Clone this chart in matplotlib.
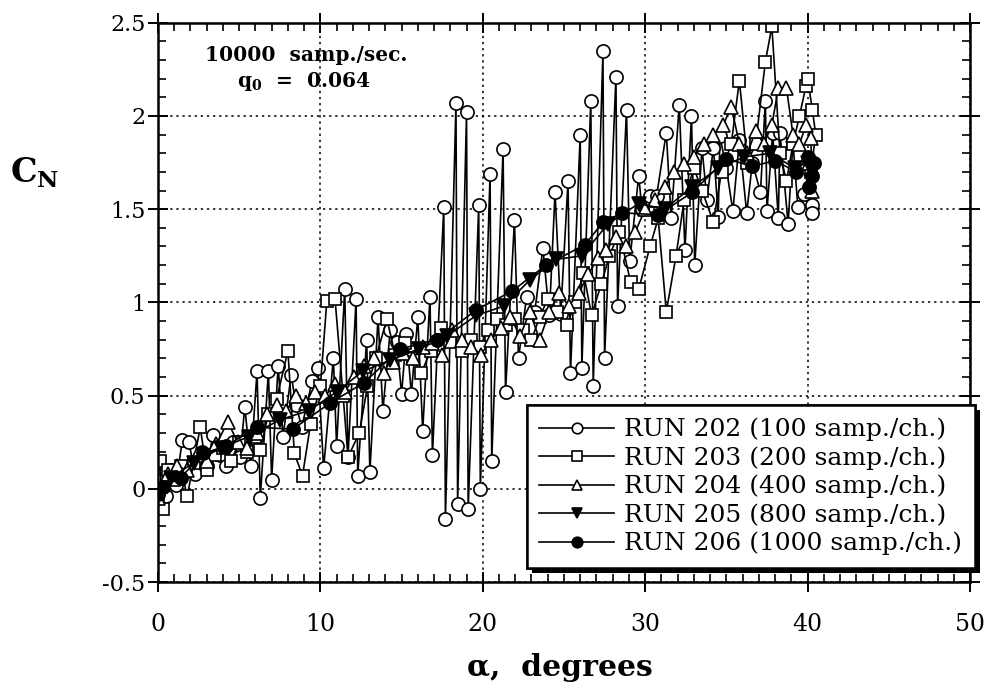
import matplotlib
matplotlib.use("Agg")
import matplotlib.pyplot as plt
import matplotlib.patheffects as pe
from matplotlib.ticker import MultipleLocator

plt.rcParams['font.family'] = ['DejaVu Serif']
plt.rcParams['mathtext.fontset'] = 'dejavuserif'

# ---- data: RUN 202 (100 samp./ch.) ----
alpha_202 = [0.0, 0.2, 0.5, 0.8, 1.1, 1.5, 1.9, 2.3, 2.7, 3.0, 3.4, 3.8, 4.2, 4.6, 5.05, 5.35,
             5.7, 6.1, 6.3, 6.8, 7.0, 7.4, 7.7, 8.2, 8.5, 8.85, 9.5, 9.85, 10.2, 10.8, 11.0, 11.5,
             11.7, 12.2, 12.3, 12.85, 13.05, 13.55, 13.85, 14.3, 14.7, 15.0, 15.3, 15.6, 16.0, 16.3,
             16.75, 16.9, 17.6, 17.7, 18.35, 18.45, 19.0, 19.1, 19.75, 19.85, 20.45, 20.55, 21.25,
             21.4, 21.95, 22.2, 22.7, 23.2, 23.7, 24.1, 24.45, 24.8, 25.25, 25.4, 26.0, 26.1, 26.65,
             26.8, 27.4, 27.5, 28.2, 28.3, 28.85, 29.05, 29.6, 29.8, 30.3, 30.7, 31.3, 31.6, 32.1,
             32.45, 32.85, 33.05, 33.5, 33.8, 34.2, 34.5, 34.6, 35.0, 35.4, 35.8, 36.25, 36.6, 37.1,
             37.4, 37.5, 37.85, 38.2, 38.3, 38.8, 39.1, 39.4, 39.8, 40.3, 40.3]
cn_202 = [-0.02, 0.05, -0.04, 0.10, 0.02, 0.26, 0.25, 0.08, 0.20, 0.12, 0.29, 0.18, 0.12, 0.25, 0.17,
          0.44, 0.12, 0.63, -0.05, 0.63, 0.05, 0.66, 0.28, 0.61, 0.45, 0.33, 0.58, 0.65, 0.11, 0.70,
          0.23, 1.07, 0.17, 1.02, 0.07, 0.80, 0.09, 0.92, 0.42, 0.85, 0.79, 0.51, 0.83, 0.51, 0.92,
          0.31, 1.03, 0.18, 1.51, -0.16, 2.07, -0.08, 2.02, -0.11, 1.52, 0.00, 1.69, 0.15, 1.82,
          0.52, 1.44, 0.70, 1.03, 0.95, 1.29, 0.93, 1.59, 0.94, 1.65, 0.62, 1.90, 0.65, 2.08, 0.55,
          2.35, 0.70, 2.21, 0.98, 2.03, 1.22, 1.68, 1.50, 1.57, 1.57, 1.91, 1.45, 2.06, 1.28, 2.00,
          1.20, 1.83, 1.55, 1.83, 1.46, 1.89, 1.72, 1.49, 1.87, 1.48, 1.75, 1.59, 2.08, 1.49, 1.91,
          1.45, 1.91, 1.42, 1.86, 1.51, 1.58, 1.52, 1.48]

# ---- data: RUN 203 (200 samp./ch.) ----
alpha_203 = [0.1, 0.3, 0.6, 1.0, 1.4, 1.8, 2.2, 2.6, 3.0, 3.5, 4.0, 4.5, 5.0, 5.5, 6.0, 6.3, 6.8,
             7.3, 8.0, 8.4, 8.9, 9.4, 10.0, 10.4, 10.9, 11.4, 11.7, 12.4, 12.9, 13.4, 14.1, 14.6,
             15.2, 15.7, 16.2, 16.8, 17.4, 18.0, 18.7, 19.3, 19.8, 20.3, 20.9, 21.4, 22.0, 22.5,
             23.0, 23.5, 24.0, 24.6, 25.2, 25.7, 26.2, 26.7, 27.3, 27.8, 28.4, 29.1, 29.6, 30.3,
             30.8, 31.3, 31.9, 32.4, 33.0, 33.5, 34.2, 34.7, 35.3, 35.8, 36.3, 36.8, 37.4, 37.8,
             38.3, 38.7, 39.1, 39.5, 39.9, 40.0, 40.3, 40.5, 40.2]
cn_203 = [0.15, -0.11, 0.10, 0.05, 0.12, -0.04, 0.14, 0.33, 0.10, 0.18, 0.22, 0.15, 0.25, 0.20,
          0.28, 0.21, 0.40, 0.48, 0.74, 0.19, 0.07, 0.35, 0.55, 1.01, 1.02, 0.50, 0.17, 0.30, 0.55,
          0.70, 0.91, 0.72, 0.78, 0.70, 0.62, 0.74, 0.86, 0.79, 0.74, 0.80, 0.76, 0.85, 0.91, 0.88,
          0.91, 0.85, 0.80, 0.92, 1.02, 0.95, 0.88, 1.00, 1.16, 0.93, 1.10, 1.25, 1.38, 1.11, 1.07,
          1.30, 1.45, 0.95, 1.25, 1.55, 1.72, 1.60, 1.43, 1.70, 1.85, 2.19, 1.75, 1.85, 2.29, 2.48,
          1.80, 1.65, 1.85, 2.00, 2.16, 2.20, 2.03, 1.90, 1.70]

# ---- data: RUN 204 (400 samp./ch.) ----
alpha_204 = [0.0, 0.6, 1.2, 1.8, 2.4, 3.0, 3.6, 4.3, 4.9, 5.5, 6.1, 6.7, 7.3, 7.9, 8.5, 9.1, 9.7,
             10.3, 10.9, 11.5, 12.1, 12.7, 13.3, 13.9, 14.5, 15.1, 15.7, 16.3, 16.9, 17.5, 18.1,
             18.7, 19.3, 19.9, 20.5, 21.1, 21.7, 22.3, 22.9, 23.5, 24.1, 24.7, 25.3, 25.9, 26.5,
             27.1, 27.6, 28.2, 28.8, 29.4, 30.0, 30.6, 31.2, 31.8, 32.4, 33.0, 33.6, 34.2, 34.8,
             35.3, 35.8, 36.3, 36.8, 37.3, 37.8, 38.2, 38.7, 39.1, 39.5, 39.9, 40.2, 40.3, 40.1]
cn_204 = [-0.05, 0.08, 0.12, 0.10, 0.18, 0.15, 0.24, 0.36, 0.25, 0.22, 0.30, 0.40, 0.45, 0.42,
          0.50, 0.46, 0.52, 0.50, 0.56, 0.52, 0.60, 0.66, 0.70, 0.62, 0.68, 0.73, 0.70, 0.76, 0.78,
          0.72, 0.85, 0.80, 0.76, 0.72, 0.80, 0.86, 0.92, 0.82, 0.95, 0.80, 0.95, 1.05, 0.98, 1.05,
          1.15, 1.24, 1.28, 1.35, 1.30, 1.38, 1.50, 1.55, 1.62, 1.70, 1.74, 1.78, 1.85, 1.90, 1.95,
          2.05, 1.85, 1.80, 1.92, 1.85, 1.95, 2.15, 2.15, 1.90, 1.85, 1.95, 1.88, 1.60, 1.75]

# ---- data: RUN 205 (800 samp./ch.) ----
alpha_205 = [0.0, 0.8, 2.2, 3.9, 5.6, 7.5, 9.3, 11.0, 12.6, 14.3, 16.1, 17.8, 19.6, 21.3, 22.9,
             24.5, 26.1, 27.7, 29.6, 31.2, 32.9, 34.5, 36.1, 37.7, 39.2, 40.0, 40.2]
cn_205 = [-0.02, 0.06, 0.14, 0.22, 0.28, 0.37, 0.42, 0.52, 0.63, 0.69, 0.75, 0.82, 0.93, 0.98,
          1.12, 1.23, 1.25, 1.42, 1.53, 1.50, 1.62, 1.72, 1.78, 1.80, 1.72, 1.75, 1.65]

# ---- data: RUN 206 (1000 samp./ch.) ----
alpha_206 = [0.0, 0.3, 1.4, 2.8, 4.2, 6.1, 8.3, 10.6, 12.7, 14.9, 17.2, 19.6, 21.8, 23.9, 26.3,
             27.4, 28.6, 30.8, 32.9, 35.0, 36.6, 38.0, 39.3, 40.0, 40.3, 40.1, 40.4]
cn_206 = [-0.03, 0.01, 0.06, 0.19, 0.23, 0.33, 0.32, 0.46, 0.57, 0.75, 0.80, 0.96, 1.06, 1.20,
          1.31, 1.43, 1.48, 1.47, 1.59, 1.77, 1.73, 1.76, 1.70, 1.78, 1.68, 1.62, 1.75]

labels = ["RUN 202 (100 samp./ch.)", "RUN 203 (200 samp./ch.)", "RUN 204 (400 samp./ch.)",
          "RUN 205 (800 samp./ch.)", "RUN 206 (1000 samp./ch.)"]
x_ticks = [0, 10, 20, 30, 40, 50]
y_ticks = [-0.5, 0, 0.5, 1, 1.5, 2, 2.5]
y_ticklabels = ["-0.5", "0", "0.5", "1", "1.5", "2", "2.5"]

series = [
    (alpha_202, cn_202, dict(marker='o', mfc='white', ms=9.5)),
    (alpha_203, cn_203, dict(marker='s', mfc='white', ms=9)),
    (alpha_204, cn_204, dict(marker='^', mfc='white', ms=9.5)),
    (alpha_205, cn_205, dict(marker='v', mfc='black', ms=9.5)),
    (alpha_206, cn_206, dict(marker='o', mfc='black', ms=9.5)),
]

fig = plt.figure(figsize=(9.91, 6.88), dpi=100)
ax = fig.add_axes([0.1594, 0.154, 0.8194, 0.813])

for (xs, ys, st), lab in zip(series, labels):
    assert len(xs) == len(ys)
    ax.plot(xs, ys, color='black', lw=1.2, mec='black', mew=1.2, label=lab, **st)

ax.set_xlim(0, 50)
ax.set_ylim(-0.5, 2.5)
ax.set_xticks(x_ticks)
ax.set_yticks(y_ticks)
ax.set_yticklabels(y_ticklabels)
ax.xaxis.set_minor_locator(MultipleLocator(1))
ax.yaxis.set_minor_locator(MultipleLocator(0.1))
ax.tick_params(which='major', direction='inout', length=14, width=1.4, top=True, right=True)
ax.tick_params(axis='x', which='major', labelsize=17, pad=15)
ax.tick_params(axis='y', which='major', labelsize=16, pad=2)
ax.tick_params(which='minor', direction='in', length=6, width=1.2, top=True, right=True)
for s in ax.spines.values():
    s.set_linewidth(1.8)
ax.grid(True, which='major', linestyle=(0, (1.5, 2.5)), color='black', lw=1.1)

fig.text(306 / 991, 1 - 61 / 688, "10000  samp./sec.", fontsize=14.5,
         fontweight='bold', ha='center', va='baseline')
fig.text(304 / 991, 1 - 87 / 688, r"q$_\mathbf{0}$  =  0.064", fontsize=14.5,
         fontweight='bold', ha='center', va='baseline')

fig.text(10 / 991, 1 - 183 / 688, r"C$_\mathbf{N}$", fontsize=24, fontweight='bold',
         ha='left', va='baseline')
fig.text(560 / 991, 1 - 676 / 688, "α,  degrees", fontsize=21.5, fontweight='bold',
         ha='center', va='baseline')

leg = ax.legend(loc='upper left', bbox_to_anchor=(0.4544, 0.316), borderaxespad=0,
                fontsize=18, frameon=True, fancybox=False, edgecolor='black',
                facecolor='white', framealpha=1,
                handlelength=3.0, handletextpad=0.4, labelspacing=0.2, borderpad=0.5,
                markerscale=0.8)
leg.get_frame().set_linewidth(1.8)
leg.get_frame().set_path_effects([pe.withSimplePatchShadow(offset=(3.5, -3.5),
                                                           shadow_rgbFace='black', alpha=1),
                                  pe.Normal()])
leg.set_zorder(10)

fig.savefig("out.png", dpi=100)
